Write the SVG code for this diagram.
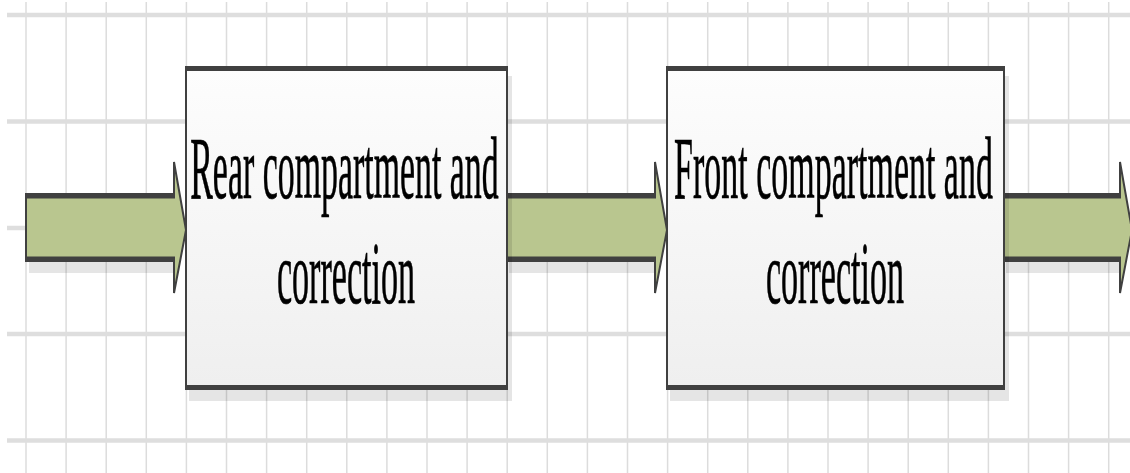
<svg xmlns="http://www.w3.org/2000/svg" width="1130" height="473" viewBox="0 0 1130 473">
  <defs>
    <linearGradient id="boxFill" x1="0" y1="0" x2="0" y2="1">
      <stop offset="0" stop-color="#fdfdfd"/>
      <stop offset="1" stop-color="#efefef"/>
    </linearGradient>
    <style>
      .gv { stroke: #dcdcdc; stroke-width: 1.5; }
      .gh { stroke: #dedede; stroke-width: 4.5; }
      .shadow { fill: #000; fill-opacity: 0.1; }
      .edge { fill: #404040; }
      .inner { fill: url(#boxFill); }
      .body { fill: #b9c68f; stroke: #404040; stroke-width: 2; stroke-linejoin: miter; }
      .label { font-family: "Liberation Serif", "Times New Roman", serif; font-size: 88px; fill: #000; stroke: #000; stroke-width: 0.7; text-anchor: middle; }
    </style>
  </defs>

  <rect width="1130" height="473" fill="#ffffff"/>

  <!-- background grid -->
  <g id="grid">
    <g class="gv">
      <line x1="26" y1="2" x2="26" y2="473"/>
      <line x1="66.1" y1="2" x2="66.1" y2="473"/>
      <line x1="106.2" y1="2" x2="106.2" y2="473"/>
      <line x1="146.3" y1="2" x2="146.3" y2="473"/>
      <line x1="186.4" y1="2" x2="186.4" y2="473"/>
      <line x1="226.5" y1="2" x2="226.5" y2="473"/>
      <line x1="266.6" y1="2" x2="266.6" y2="473"/>
      <line x1="306.7" y1="2" x2="306.7" y2="473"/>
      <line x1="346.8" y1="2" x2="346.8" y2="473"/>
      <line x1="386.9" y1="2" x2="386.9" y2="473"/>
      <line x1="427" y1="2" x2="427" y2="473"/>
      <line x1="467.1" y1="2" x2="467.1" y2="473"/>
      <line x1="507.2" y1="2" x2="507.2" y2="473"/>
      <line x1="547.3" y1="2" x2="547.3" y2="473"/>
      <line x1="587.4" y1="2" x2="587.4" y2="473"/>
      <line x1="627.5" y1="2" x2="627.5" y2="473"/>
      <line x1="667.6" y1="2" x2="667.6" y2="473"/>
      <line x1="707.7" y1="2" x2="707.7" y2="473"/>
      <line x1="747.8" y1="2" x2="747.8" y2="473"/>
      <line x1="787.9" y1="2" x2="787.9" y2="473"/>
      <line x1="828" y1="2" x2="828" y2="473"/>
      <line x1="868.1" y1="2" x2="868.1" y2="473"/>
      <line x1="908.2" y1="2" x2="908.2" y2="473"/>
      <line x1="948.3" y1="2" x2="948.3" y2="473"/>
      <line x1="988.4" y1="2" x2="988.4" y2="473"/>
      <line x1="1028.5" y1="2" x2="1028.5" y2="473"/>
      <line x1="1068.6" y1="2" x2="1068.6" y2="473"/>
      <line x1="1108.7" y1="2" x2="1108.7" y2="473"/>
    </g>
    <g class="gh">
      <line x1="7" y1="15" x2="1130" y2="15"/>
      <line x1="7" y1="121.5" x2="1130" y2="121.5"/>
      <line x1="7" y1="228" x2="1130" y2="228"/>
      <line x1="7" y1="334" x2="1130" y2="334"/>
      <line x1="7" y1="440.5" x2="1130" y2="440.5"/>
    </g>
  </g>

  <!-- connectors: block arrows -->
  <g id="connectors">
    <g id="arrow-in">
      <rect class="shadow" x="29" y="262" width="146" height="11"/>
      <path class="body" d="M26,195.5 H174 V162 L186,230 L174,293 V259.5 H26 Z"/>
      <rect class="edge" x="25" y="193" width="150" height="5.5"/>
      <rect class="edge" x="25" y="256.5" width="150" height="5.5"/>
    </g>
    <g id="arrow-mid">
      <rect class="shadow" x="509" y="262" width="146" height="11"/>
      <path class="body" d="M507,195.5 H655 V162 L667,230 L655,293 V259.5 H507 Z"/>
      <rect class="edge" x="506" y="193" width="150" height="5.5"/>
      <rect class="edge" x="506" y="256.5" width="150" height="5.5"/>
    </g>
    <g id="arrow-out">
      <rect class="shadow" x="1006" y="262" width="114" height="11"/>
      <path class="body" d="M1004,195.5 H1120 V162 L1132,230 L1120,293 V259.5 H1004 Z"/>
      <rect class="edge" x="1004" y="193" width="117" height="5.5"/>
      <rect class="edge" x="1004" y="256.5" width="117" height="5.5"/>
    </g>
  </g>

  <!-- process blocks; labels are a horizontally condensed serif -->
  <g id="rear-block">
    <rect class="shadow" x="189" y="76" width="323" height="325"/>
    <rect class="edge" x="185" y="66" width="323" height="324"/>
    <rect class="inner" x="187" y="71" width="319" height="314"/>
    <text class="label" transform="translate(344.5,198) scale(0.385,1)">Rear compartment and</text>
    <text class="label" transform="translate(346,303) scale(0.387,1)">correction</text>
  </g>

  <g id="front-block">
    <rect class="shadow" x="670" y="76" width="339" height="325"/>
    <rect class="edge" x="666" y="66" width="339" height="324"/>
    <rect class="inner" x="668" y="71" width="335" height="314"/>
    <text class="label" transform="translate(833.5,198) scale(0.386,1)">Front compartment and</text>
    <text class="label" transform="translate(835,303) scale(0.387,1)">correction</text>
  </g>
</svg>
